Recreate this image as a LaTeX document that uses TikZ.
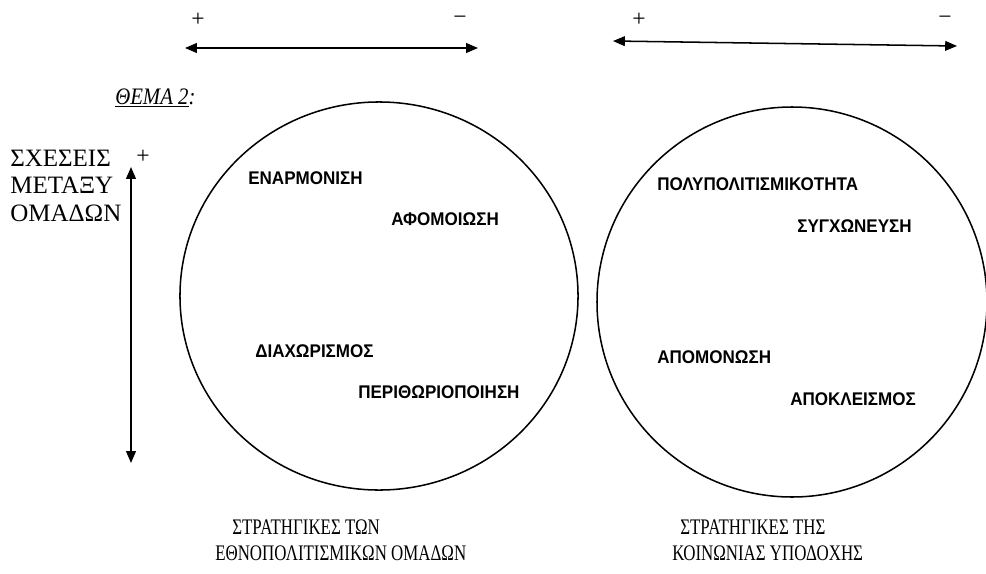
\documentclass[tikz,border=0pt]{standalone}
\usepackage{fontspec}
\setmainfont{Liberation Serif}
\newfontfamily\arialfont[FakeStretch=0.93]{Liberation Sans}
\newfontfamily\narrowserif[FakeStretch=0.76]{Liberation Serif}
\newfontfamily\themeserif[FakeStretch=0.88]{Liberation Serif}
\usetikzlibrary{shapes.geometric, arrows.meta, positioning}

\begin{document}
\begin{tikzpicture}[
    x=0.72pt, y=-0.72pt,
    % Define styles for the elements
    strategy circle/.style={
        ellipse,
        draw=black,
        line width=1.1pt,
        inner sep=0pt
    },
    strategy label/.style={
        anchor=west,
        inner sep=0pt,
        font=\arialfont\bfseries\fontsize{13.2}{15}\selectfont
    },
    axis arrow/.style={
        {Triangle[width=7pt, length=8.5pt]}-{Triangle[width=7pt, length=8.5pt]},
        line width=1.1pt
    },
    sign label/.style={
        inner sep=0pt,
        font=\fontsize{17}{19}\selectfont
    },
    caption line/.style={
        anchor=base west,
        inner sep=0pt,
        font=\narrowserif\fontsize{16}{18}\selectfont
    }
]
    \useasboundingbox (0,0) rectangle (986,573);

    % --- Title and vertical axis ---
    \node[anchor=west, inner sep=0pt, font=\themeserif\itshape\fontsize{17}{19}\selectfont] (theme) at (115,98) {\underline{ΘΕΜΑ 2}:};
    \node[anchor=base west, align=left, inner sep=0pt, font=\fontsize{18}{19.5}\selectfont] (relations) at (10,221) {ΣΧΕΣΕΙΣ\\ΜΕΤΑΞΥ\\ΟΜΑΔΩΝ};
    \node[sign label] (plusV) at (143,157) {+};
    \coordinate (vTop) at (131,167);
    \coordinate (vBot) at (131,463);
    \draw[axis arrow] (vBot) -- (vTop);

    % --- Left circle: ethnocultural groups ---
    \node[strategy circle, minimum width=286.6pt, minimum height=279.4pt] (groups) at (379,296) {};
    \node[strategy label] (harmony) at (248,178) {ΕΝΑΡΜΟΝΙΣΗ};
    \node[strategy label] (assimil) at (391,219) {ΑΦΟΜΟΙΩΣΗ};
    \node[strategy label] (separat) at (255,351) {ΔΙΑΧΩΡΙΣΜΟΣ};
    \node[strategy label] (margin) at (358,392) {ΠΕΡΙΘΩΡΙΟΠΟΙΗΣΗ};
    % Axis above
    \node[sign label] (plusA) at (198,20) {+};
    \node[sign label] (minusA) at (460,20) {−};
    \coordinate (aLeft) at (185,48);
    \coordinate (aRight) at (478,48);
    \draw[axis arrow] (aLeft) -- (aRight);
    \node[caption line] (capA1) at (232,534) {ΣΤΡΑΤΗΓΙΚΕΣ ΤΩΝ};
    \node[caption line] (capA2) at (215,560) {ΕΘΝΟΠΟΛΙΤΙΣΜΙΚΩΝ ΟΜΑΔΩΝ};

    % --- Right circle: host society ---
    \node[strategy circle, minimum width=280.8pt, minimum height=280.8pt] (society) at (792,302) {};
    \node[strategy label] (multicult) at (657,184) {ΠΟΛΥΠΟΛΙΤΙΣΜΙΚΟΤΗΤΑ};
    \node[strategy label] (fusion) at (797,226) {ΣΥΓΧΩΝΕΥΣΗ};
    \node[strategy label] (isolat) at (657,357) {ΑΠΟΜΟΝΩΣΗ};
    \node[strategy label] (exclus) at (790,399) {ΑΠΟΚΛΕΙΣΜΟΣ};
    % Axis above
    \node[sign label] (plusB) at (639,20) {+};
    \node[sign label] (minusB) at (945,20) {−};
    \coordinate (bLeft) at (613,41);
    \coordinate (bRight) at (957,46);
    \draw[axis arrow] (bLeft) -- (bRight);
    \node[caption line] (capB1) at (680,534) {ΣΤΡΑΤΗΓΙΚΕΣ ΤΗΣ};
    \node[caption line] (capB2) at (672,560) {ΚΟΙΝΩΝΙΑΣ ΥΠΟΔΟΧΗΣ};

\end{tikzpicture}
\end{document}
